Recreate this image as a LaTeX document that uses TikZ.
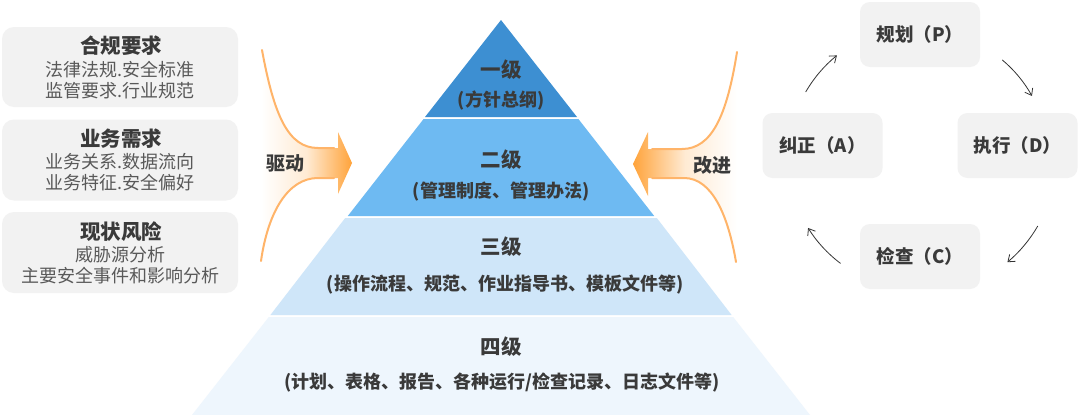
\documentclass[tikz,border=0pt]{standalone}
\usepackage{fontspec}
\setmainfont{Noto Sans CJK SC}
\usetikzlibrary{arrows.meta}
\definecolor{boxgray}{HTML}{F2F2F2}
\definecolor{txtdark}{HTML}{3A3A3A}
\definecolor{txtbody}{HTML}{595959}
\definecolor{lvA}{HTML}{3D8FD2}
\definecolor{lvB}{HTML}{6EBAF2}
\definecolor{lvC}{HTML}{CFE6F9}
\definecolor{lvD}{HTML}{EEF6FD}
\definecolor{org}{HTML}{FFA33A}
\definecolor{orgline}{HTML}{FFB469}
\definecolor{arrowc}{HTML}{333333}
\tikzset{
  sidebox/.style={fill=boxgray, rounded corners=12pt, inner sep=0pt, draw=none},
  cycbox/.style={fill=boxgray, rounded corners=10pt, inner sep=0pt, draw=none,
     minimum width=120pt, minimum height=65pt, text=txtdark,
     font=\fontsize{18.5}{21}\selectfont\bfseries},
  sidettl/.style={inner sep=0pt, text=txtdark, font=\fontsize{20.5}{24}\selectfont\bfseries},
  sidebody/.style={inner sep=0pt, text=txtbody, font=\fontsize{18}{21}\selectfont},
  pyrttl/.style={inner sep=0pt, text=txtdark, font=\fontsize{20.5}{24}\selectfont\bfseries},
  pyrsub/.style={inner sep=0pt, text=txtdark, font=\fontsize{18}{21}\selectfont\bfseries},
  flowtxt/.style={inner sep=0pt, text=txtdark, font=\fontsize{19}{22}\selectfont\bfseries},
  flowline/.style={draw=orgline, line width=2pt, line cap=round},
  pdca/.style={draw=arrowc, line width=0.8pt, -{Straight Barb[length=6pt,width=9pt]}}
}
\begin{document}
\begin{tikzpicture}[x=1pt,y=-1pt]
\useasboundingbox (0,0) rectangle (1080,415);
\fill[white] (0,0) rectangle (1080,415);

% ---- left boxes ----
\node[sidebox, minimum width=236pt, minimum height=80pt] (b1) at (120,67) {};
\node[sidebox, minimum width=236pt, minimum height=81pt] (b2) at (120,160) {};
\node[sidebox, minimum width=236pt, minimum height=81pt] (b3) at (120,252.5) {};
\node[sidettl] (t1) at (121,46) {合规要求};
\node[sidebody] (t1a) at (120,70) {法律法规.安全标准};
\node[sidebody] (t1b) at (120,91) {监管要求.行业规范};
\node[sidettl] (t2) at (121,139) {业务需求};
\node[sidebody] (t2a) at (120,162) {业务关系.数据流向};
\node[sidebody] (t2b) at (120,183) {业务特征.安全偏好};
\node[sidettl] (t3) at (121,232) {现状风险};
\node[sidebody] (t3a) at (120,255) {威胁源分析};
\node[sidebody] (t3b) at (120,276) {主要安全事件和影响分析};

% ---- pyramid ----
\fill[lvA] (501,20) -- (577,117) -- (425,117) -- cycle;
\fill[lvB] (423.6,119) -- (578.4,119) -- (654.2,216) -- (347.8,216) -- cycle;
\fill[lvC] (345.2,218) -- (656.8,218) -- (731.6,315) -- (270.4,315) -- cycle;
\fill[lvD] (268.8,317) -- (733.2,317) -- (810,415) -- (192,415) -- cycle;
\node[pyrttl] (p1) at (501,70) {一级};
\node[pyrsub] (p1s) at (501,100) {(方针总纲)};
\node[pyrttl] (p2) at (501,160) {二级};
\node[pyrsub] (p2s) at (501,192) {(管理制度、管理办法)};
\node[pyrttl] (p3) at (501,247) {三级};
\node[pyrsub] (p3s) at (505,285) {(操作流程、规范、作业指导书、模板文件等)};
\node[pyrttl] (p4) at (501,347) {四级};
\node[pyrsub] (p4s) at (502,383) {(计划、表格、报告、各种运行/检查记录、日志文件等)};

% ---- drive arrow (left) ----
\shade[left color=white, right color=org, middle color=org!22]
  (262,50) .. controls (274,115) and (288,148) .. (318,148) -- (338,148)
  -- (338,132) -- (352,163) -- (338,194) -- (338,178) -- (318,178)
  .. controls (288,178) and (268,212) .. (261,261) -- cycle;
\draw[flowline] (262,50) .. controls (274,115) and (288,148) .. (318,148) -- (334,148);
\draw[flowline] (334,178) -- (318,178) .. controls (288,178) and (268,212) .. (261,261);
\node[flowtxt] (drv) at (285,163) {驱动};

% ---- improve arrow (right) ----
\shade[left color=org, right color=white, middle color=org!22]
  (737,52) .. controls (727,115) and (712,149) .. (682,149) -- (648,149)
  -- (648,132) -- (633,164) -- (648,196) -- (648,178) -- (684,178)
  .. controls (712,178) and (728,215) .. (736,262) -- cycle;
\draw[flowline] (737,52) .. controls (727,115) and (712,149) .. (682,149) -- (652,149);
\draw[flowline] (652,178) -- (684,178) .. controls (712,178) and (728,215) .. (736,262);
\node[flowtxt] (imp) at (712,165) {改进};

% ---- PDCA cycle ----
\node[cycbox] (P) at (920,34.5) {规划（P）};
\node[cycbox] (D) at (1017.5,145.5) {执行（D）};
\node[cycbox] (C) at (920,256.5) {检查（C）};
\node[cycbox] (A) at (822.5,145.5) {纠正（A）};
\coordinate (cyc) at (920,158);
\coordinate (aps) at ([shift={(210:132)}]cyc);
\coordinate (pds) at ([shift={(310:128)}]cyc);
\coordinate (dcs) at ([shift={(30:136)}]cyc);
\coordinate (cas) at ([shift={(127:132)}]cyc);
\draw[pdca] (aps) arc[start angle=210, end angle=231, radius=132];
\draw[pdca] (pds) arc[start angle=310, end angle=331, radius=128];
\draw[pdca] (dcs) arc[start angle=30, end angle=50, radius=136];
\draw[pdca] (cas) arc[start angle=127, end angle=148, radius=132];
\end{tikzpicture}
\end{document}
